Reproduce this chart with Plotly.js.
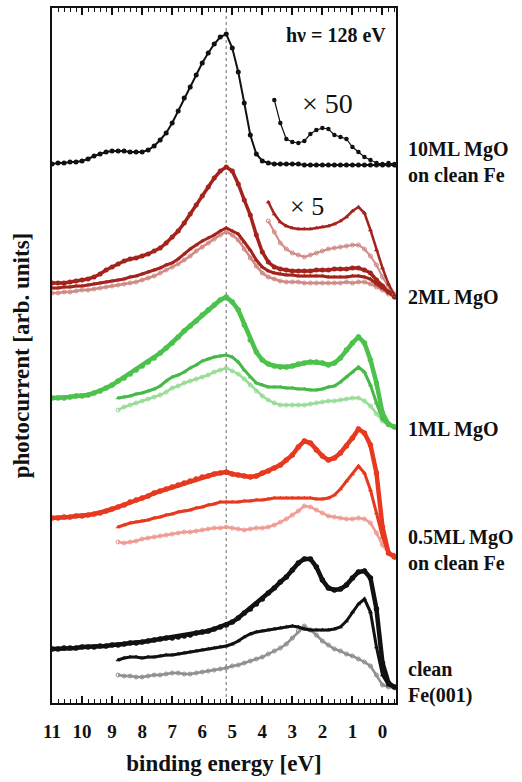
<!DOCTYPE html>
<html>
<head>
<meta charset="utf-8">
<script src="https://cdn.plot.ly/plotly-3.0.1.min.js"></script>
<style>html,body{margin:0;padding:0;background:#fff;}</style>
</head>
<body>
<div id="chart" style="width:522px;height:782px;"></div>
<script>
// Binding energy grid (eV)
const energy = [11,10.8,10.6,10.4,10.2,10,9.8,9.6,9.4,9.2,9,8.8,8.6,8.4,8.2,8,7.8,7.6,7.4,7.2,7,6.8,6.6,6.4,6.2,6,5.8,5.6,5.4,5.2,5,4.8,4.6,4.4,4.2,4,3.8,3.6,3.4,3.2,3,2.8,2.6,2.4,2.2,2,1.8,1.6,1.4,1.2,1,0.8,0.6,0.4,0.2,0,-0.2,-0.4];
const energyFrom88 = energy.slice(11);
const energyFrom38 = energy.slice(36);
const energyFrom36 = energy.slice(37);
const refEnergy = [5.2, 5.2];
const refSpan = [0, 695];

// 10ML MgO
const ml10 = [539,540,540,541,541,542,544,547,549,551,552,552,552,551,551,551,553,557,563,570,580,592,605,616,628,640,650,659,666,669,655,631,600,568,549,542,540,539,539,539,539,539,538,538,538,538,538,538,538,538,538,538,538,538,538,538,538,538];
const ml10x50 = [603,580,564,561,560,562,569,573,575,574,568,566,564,556,551,546,543,540,539,540,539];

// 2ML MgO
const ml2Circ = [420,420,420,421,422,423,424,426,429,433,436,439,442,444,445,447,449,452,455,460,466,472,480,489,498,507,516,525,532,536,532,519,503,488,468,451,441,436,434,433,432,432,432,432,433,433,433,434,434,434,435,435,433,430,423,417,411,406];
const ml2Tri = [415,415,416,416,417,417,418,419,420,421,422,423,424,426,427,429,431,433,435,438,440,444,449,454,458,462,465,468,472,475,472,469,461,453,443,436,432,430,429,428,428,427,427,427,427,427,426,426,426,426,427,427,426,424,419,415,411,407];
const ml2Open = [410,410,411,411,412,413,413,414,415,416,417,418,419,420,421,423,425,427,430,433,436,439,443,447,452,456,460,464,468,471,468,463,454,445,437,430,426,424,422,421,421,421,420,420,420,420,420,420,420,421,420,421,421,419,416,413,409,406];
const ml2TriX5 = [501,489,481,477,475,474,474,474,475,476,477,479,482,486,492,496,490,473,453,435,419,408];
const ml2OpenX5 = [482,471,460,454,450,448,446,448,450,452,454,455,456,457,458,458,454,447,438,426,416,409];

// 1ML MgO
const ml1Circ = [305,305,305,306,307,307,308,310,312,315,318,322,325,329,333,337,341,345,350,355,360,366,372,377,382,388,393,398,403,406,401,393,378,363,351,343,339,337,336,336,337,339,340,341,341,340,338,340,345,353,360,366,360,343,320,290,279,276];
const ml1Tri = [305,306,307,309,310,312,314,317,322,326,328,331,335,338,342,344,346,347,348,346,341,333,326,320,318,316,316,316,315,315,314,314,313,313,314,316,317,321,326,331,336,331,318,300,284,278,276];
const ml1Open = [293,296,298,300,302,304,306,308,311,315,317,320,322,324,326,328,331,333,335,332,329,324,318,312,307,303,300,298,298,298,298,298,299,300,301,302,302,303,304,305,305,302,297,289,282,278,276];

// 0.5ML MgO
const ml05Circ = [185,185,186,186,187,187,188,189,190,192,194,196,198,201,203,205,207,210,212,214,216,218,220,222,224,226,227,229,230,231,229,228,227,226,227,230,232,235,238,243,248,256,262,260,253,247,243,245,250,257,265,274,270,258,230,176,150,146];
const ml05Tri = [176,178,180,181,182,183,185,186,188,189,191,192,193,195,196,198,199,201,201,201,201,202,202,203,203,204,205,205,205,205,205,205,205,204,204,205,208,214,222,229,237,230,213,190,166,150,148];
const ml05Open = [161,160,161,162,164,165,166,167,168,169,170,171,171,172,173,174,175,175,176,175,174,173,174,175,175,176,178,181,184,188,192,197,196,193,190,187,186,185,184,184,185,184,180,170,158,150,146];

// clean Fe(001)
const cleanCirc = [54,54,55,55,55,56,56,56,57,57,58,58,59,60,60,61,62,63,64,65,65,66,67,68,70,71,72,74,76,78,81,85,90,94,99,104,110,115,121,126,133,140,144,144,136,123,115,113,114,118,125,131,132,125,94,40,20,16];
const cleanTri = [43,45,46,46,45,46,46,47,48,48,49,50,51,52,53,54,55,56,57,59,62,66,69,71,72,73,74,75,76,77,76,74,73,73,73,73,74,76,82,91,99,104,91,56,28,18,16];
const cleanOpen = [28,27,27,26,26,27,28,28,29,30,30,29,29,30,31,32,33,34,35,37,38,40,42,44,46,49,52,55,59,65,72,77,73,68,62,58,54,52,49,47,44,41,37,28,18,16,15];

const labels = ["10ML MgO<br>on clean Fe","2ML MgO","1ML MgO","0.5ML MgO<br>on clean Fe","clean<br>Fe(001)"];
const labelY = [0.778,0.584,0.393,0.220,0.030];

function tr(x, y, color, symbol, msize, lw) {
  return {
    x: x, y: y, type: 'scatter', mode: 'lines+markers',
    line: {color: color, width: lw},
    marker: {color: color, symbol: symbol, size: msize}
  };
}

const black = '#111111';
const darkRed = '#a3241c', pinkDR = '#cf8a86';
const green = '#4cc24c', greenTri = '#48b848', lightGreen = '#97dc97';
const red = '#e6391f', pinkRed = '#f09a92';
const grey = '#8f8f8f';

const data = [
  {x: refEnergy, y: refSpan, type: 'scatter', mode: 'lines', line: {color: '#9a9a9a', width: 1.5, dash: 'dot'}},
  tr(energy, ml10, black, 'circle', 5, 2),
  tr(energyFrom36, ml10x50, black, 'circle', 4.5, 1.2),
  tr(energy, ml2Open, pinkDR, 'circle-open', 4, 2.5),
  tr(energy, ml2Tri, darkRed, 'triangle-up', 4.5, 3),
  tr(energy, ml2Circ, darkRed, 'circle', 5, 3.5),
  tr(energyFrom38, ml2OpenX5, pinkDR, 'circle-open', 4, 2),
  tr(energyFrom38, ml2TriX5, darkRed, 'triangle-up', 4.5, 2.5),
  tr(energyFrom88, ml1Open, lightGreen, 'circle-open', 4, 2.5),
  tr(energyFrom88, ml1Tri, greenTri, 'triangle-up', 4.5, 3),
  tr(energy, ml1Circ, green, 'circle', 5.5, 4.5),
  tr(energyFrom88, ml05Open, pinkRed, 'circle-open', 4, 2.5),
  tr(energyFrom88, ml05Tri, red, 'triangle-up', 4.5, 3),
  tr(energy, ml05Circ, red, 'circle', 5.5, 4.5),
  tr(energyFrom88, cleanOpen, grey, 'circle-open', 4, 2.5),
  tr(energyFrom88, cleanTri, black, 'triangle-up', 4.5, 3),
  tr(energy, cleanCirc, black, 'circle', 5.5, 4.5)
];

const serif = 'Liberation Serif, DejaVu Serif, serif';
const annotations = labels.map((t, i) => ({
  text: t, xref: 'paper', yref: 'paper', x: 1.03, y: labelY[i],
  xanchor: 'left', yanchor: 'middle', align: 'left', showarrow: false,
  font: {family: serif, size: 20, color: '#111', weight: 'bold'}
}));
annotations.push({text: 'hν = 128 eV', xref: 'paper', yref: 'paper', x: 0.977, y: 0.961,
  xanchor: 'right', yanchor: 'middle', showarrow: false,
  font: {family: serif, size: 20, color: '#111', weight: 'bold'}});
annotations.push({text: '× 50', xref: 'paper', yref: 'paper', x: 0.802, y: 0.863,
  xanchor: 'center', yanchor: 'middle', showarrow: false,
  font: {family: serif, size: 28, color: '#111'}});
annotations.push({text: '× 5', xref: 'paper', yref: 'paper', x: 0.741, y: 0.715,
  xanchor: 'center', yanchor: 'middle', showarrow: false,
  font: {family: serif, size: 26, color: '#111'}});

const layout = {
  width: 522, height: 782,
  margin: {l: 52, r: 126, t: 8, b: 79},
  font: {family: serif, color: '#111'},
  showlegend: false,
  hovermode: false,
  xaxis: {
    range: [11, -0.45],
    tickmode: 'linear', tick0: 0, dtick: 1,
    ticks: 'inside', ticklen: 7, tickwidth: 1.5, tickcolor: '#111',
    minor: {dtick: 0.2, ticks: 'inside', ticklen: 4, tickwidth: 1, tickcolor: '#111'},
    showline: true, linewidth: 2, linecolor: '#111', mirror: 'ticks',
    showgrid: false, zeroline: false,
    tickfont: {family: serif, size: 19, color: '#111', weight: 'bold'},
    ticklabelstandoff: 10,
    title: {text: 'binding energy [eV]', font: {family: serif, size: 23, color: '#111', weight: 'bold'}, standoff: 14}
  },
  yaxis: {
    range: [0, 695],
    showticklabels: false, ticks: '',
    showline: true, linewidth: 2, linecolor: '#111', mirror: true,
    showgrid: false, zeroline: false,
    title: {text: 'photocurrent [arb. units]', font: {family: serif, size: 23, color: '#111', weight: 'bold'}, standoff: 14}
  },
  annotations: annotations
};

Plotly.newPlot('chart', data, layout, {displayModeBar: false});
</script>
</body>
</html>
